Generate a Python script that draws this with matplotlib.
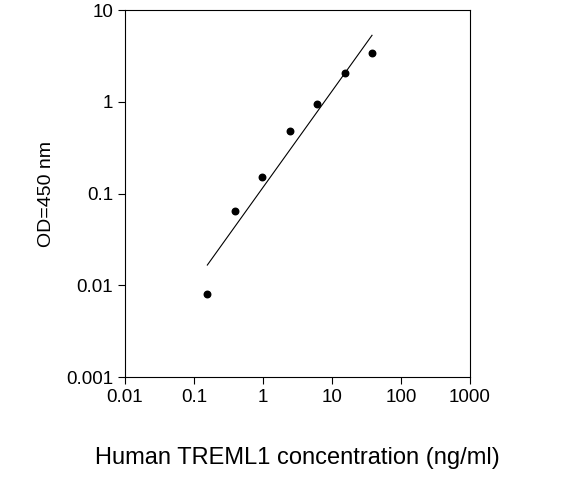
import matplotlib
matplotlib.use("Agg")
import matplotlib.pyplot as plt
from matplotlib.ticker import FixedLocator, FixedFormatter, NullLocator

plt.rcParams['font.family'] = ['Liberation Sans', 'DejaVu Sans']

conc = [0.156, 0.39, 0.98, 2.44, 6.1, 15.3, 38.0]
od = [0.008, 0.064, 0.15, 0.48, 0.94, 2.05, 3.4]
fit_x = [0.156, 38.0]
fit_y = [0.0166, 5.3]
xticks = [0.01, 0.1, 1, 10, 100, 1000]
xlabels = ["0.01", "0.1", "1", "10", "100", "1000"]
yticks = [0.001, 0.01, 0.1, 1, 10]
ylabels = ["0.001", "0.01", "0.1", "1", "10"]

fig = plt.figure(figsize=(5.75, 4.94), dpi=100)
ax = fig.add_axes([125/575, 1-377/494, 345/575, 367/494])
ax.set_xscale("log"); ax.set_yscale("log")
ax.set_xlim(0.01, 1000); ax.set_ylim(0.001, 10)
ax.plot(fit_x, fit_y, color="black", lw=0.8)
ax.scatter(conc, od, s=22, color="black", zorder=3)
ax.xaxis.set_major_locator(FixedLocator(xticks))
ax.xaxis.set_major_formatter(FixedFormatter(xlabels))
ax.yaxis.set_major_locator(FixedLocator(yticks))
ax.yaxis.set_major_formatter(FixedFormatter(ylabels))
ax.xaxis.set_minor_locator(NullLocator()); ax.yaxis.set_minor_locator(NullLocator())
ax.tick_params(labelsize=13.5, direction="out", length=5)
ax.set_xlabel("Human TREML1 concentration (ng/ml)", fontsize=17, labelpad=30)
ax.set_ylabel("OD=450 nm", fontsize=14, labelpad=8)
fig.savefig("out.png", dpi=100)
